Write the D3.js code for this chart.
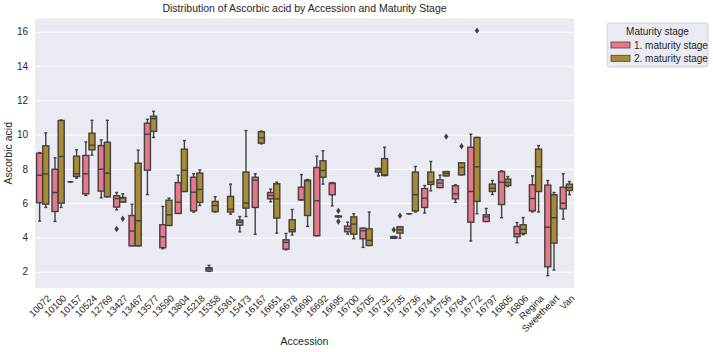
<!DOCTYPE html>
<html><head><meta charset="utf-8">
<script src="https://cdn.jsdelivr.net/npm/d3@7"></script>
<style>body{margin:0;background:#fff}svg{display:block;font-family:"Liberation Sans",Arial,sans-serif}</style>
</head><body><svg id="c" width="713" height="352"></svg>
<script>
const categories = ["10072","10100","10157","10524","12769","13427","13467","13577","13590","13804","15218","15358","15361","15473","16167","16651","16678","16690","16692","16695","16700","16705","16732","16735","16736","16744","16756","16764","16772","16797","16805","16806","Regina","Sweetheart","Van"];
const seriesNames = ["1. maturity stage","2. maturity stage"];
// [lowWhisker, q1, median, q3, highWhisker]
const stage1 = [
[4.95,6.02,7.63,8.91,8.95],[4.93,5.51,6.62,7.98,8.64],[7.24,7.24,7.24,7.24,7.24],[6.45,6.54,7.71,8.78,9.57],
[6.31,6.70,7.98,9.36,9.69],[5.61,5.77,6.27,6.43,6.62],[3.51,3.51,4.37,5.28,5.94],[6.50,7.92,10.02,10.66,10.89],
[3.34,3.40,4.04,4.74,5.81],[5.40,5.40,6.06,7.20,7.63],[5.48,5.55,6.64,7.51,7.71],[2.02,2.04,2.16,2.23,2.37],
null,[4.33,4.72,4.89,5.01,5.22],[4.19,5.75,7.34,7.51,7.71],[6.08,6.25,6.45,6.62,6.82],
[3.28,3.32,3.71,3.86,4.23],[6.19,6.19,6.20,6.93,7.67],[4.10,4.10,6.14,8.08,8.74],[5.84,6.49,7.15,7.17,7.20],
[4.19,4.33,4.50,4.66,4.89],[3.42,3.92,4.39,4.54,4.54],[7.59,7.81,7.94,8.02,8.02],[3.95,3.95,4.00,4.05,4.05],
[5.38,5.38,5.38,5.38,5.38],[5.42,5.75,6.29,6.85,7.03],[6.91,6.91,7.17,7.36,7.63],[6.04,6.25,6.54,7.01,7.07],
[3.79,4.89,6.68,9.26,10.02],[4.93,4.93,5.20,5.32,5.69],[5.15,5.92,7.22,7.84,7.88],[3.69,4.04,4.21,4.64,4.87],
[5.49,5.55,6.27,7.07,7.59],[1.77,2.29,4.60,7.05,7.32],[5.07,5.67,6.00,6.93,7.71]
];
const stage2 = [
[5.75,5.94,7.71,9.34,10.10],[5.75,6.00,8.72,10.82,10.85],[7.46,7.55,7.71,8.74,9.11],[8.80,9.11,9.38,10.08,10.83],
[6.37,6.37,7.75,9.55,10.83],[6.06,6.06,6.30,6.33,6.54],[3.51,3.51,4.97,8.33,9.09],[9.83,10.19,10.93,11.07,11.36],
[4.70,4.70,5.32,6.17,6.29],[6.68,6.68,7.92,9.15,9.65],[5.86,6.04,6.80,7.75,7.94],[5.48,5.51,5.86,6.10,6.37],
[5.36,5.48,5.65,6.39,7.11],[5.22,5.71,6.00,7.81,10.23],[9.46,9.50,9.81,10.16,10.20],[4.25,5.13,6.25,7.13,7.22],
[4.14,4.33,4.45,5.03,5.63],[4.64,5.28,7.30,7.34,7.38],[7.11,7.51,7.90,8.47,9.05],[5.20,5.20,5.22,5.25,5.25],
[3.92,4.19,4.78,5.20,5.38],[3.53,3.53,3.83,4.50,5.48],[7.61,7.61,7.65,8.60,9.26],[3.96,4.25,4.45,4.62,4.62],
[5.48,5.55,6.50,7.81,8.14],[6.72,7.09,7.24,7.81,8.43],[7.59,7.59,7.73,7.84,7.84],[7.65,7.65,8.08,8.35,8.35],
[5.38,6.10,8.12,9.83,9.83],[6.50,6.68,6.87,7.11,7.32],[6.97,7.03,7.20,7.40,7.55],[4.16,4.23,4.47,4.74,5.16],
[5.48,6.68,8.12,9.15,9.36],[2.10,3.67,5.15,6.49,6.62],[6.49,6.74,6.91,7.11,7.26]
];
const outliers1 = [["13427",4.49],["16735",4.45]];
const outliers2 = [["13427",5.09],["16695",5.55],["16695",4.93],["16735",5.26],["16756",9.88],["16764",9.32],["16772",16.06]];
const yTicks = [2,4,6,8,10,12,14,16];
const colors = ["#e8778a","#a88b33"];
const lineColor = "#414141";

const svg = d3.select("#c");
const L=35,R=574,T=18.5,B=288;
const x = d3.scaleBand().domain(categories).range([L,R]).padding(0);
const xs = d3.scaleBand().domain(seriesNames).range([x.bandwidth()*0.1, x.bandwidth()*0.9]).padding(0);
const y = d3.scaleLinear().domain([1.05,16.77]).range([B,T]);

svg.append("rect").attr("x",L).attr("y",T).attr("width",R-L).attr("height",B-T).attr("fill","#eaeaf2");
const yAxis = d3.axisLeft(y).tickValues(yTicks).tickSize(-(R-L)).tickPadding(7);
const gy = svg.append("g").attr("transform",`translate(${L},0)`).call(yAxis);
gy.select(".domain").remove();
gy.selectAll(".tick line").attr("stroke","#fff").attr("stroke-width",1);
gy.selectAll(".tick text").attr("font-size",10).attr("fill","#262626").attr("font-family","Liberation Sans, Arial, sans-serif");

const xAxis = d3.axisBottom(x).tickSize(0).tickPadding(5);
const gx = svg.append("g").attr("transform",`translate(0,${B})`).call(xAxis);
gx.select(".domain").remove();
gx.selectAll(".tick text").attr("font-size",9.5).attr("fill","#262626").attr("font-family","Liberation Sans, Arial, sans-serif")
  .attr("text-anchor","end").attr("dy","0.35em").attr("transform","translate(3,5) rotate(-45)");

const allSeries = [stage1, stage2];
const bw = xs.bandwidth()*0.98;
allSeries.forEach((ser, si) => {
  const g = svg.append("g");
  ser.forEach((s, i) => {
    if (!s) return;
    const cx = x(categories[i]) + xs(seriesNames[si]) + xs.bandwidth()/2;
    const [lo,q1,md,q3,hi] = s;
    const bg = g.append("g");
    bg.append("line").attr("x1",cx).attr("x2",cx).attr("y1",y(hi)).attr("y2",y(q3)).attr("stroke",lineColor).attr("stroke-width",1.4);
    bg.append("line").attr("x1",cx).attr("x2",cx).attr("y1",y(q1)).attr("y2",y(lo)).attr("stroke",lineColor).attr("stroke-width",1.4);
    bg.append("line").attr("x1",cx-bw/4).attr("x2",cx+bw/4).attr("y1",y(hi)).attr("y2",y(hi)).attr("stroke",lineColor).attr("stroke-width",1.4);
    bg.append("line").attr("x1",cx-bw/4).attr("x2",cx+bw/4).attr("y1",y(lo)).attr("y2",y(lo)).attr("stroke",lineColor).attr("stroke-width",1.4);
    bg.append("rect").attr("x",cx-bw/2).attr("y",y(q3)).attr("width",bw).attr("height",Math.max(0,y(q1)-y(q3)))
      .attr("fill",colors[si]).attr("stroke",lineColor).attr("stroke-width",1.4);
    bg.append("line").attr("x1",cx-bw/2).attr("x2",cx+bw/2).attr("y1",y(md)).attr("y2",y(md)).attr("stroke",lineColor).attr("stroke-width",1.4);
  });
});
const diamond = (cx,cy)=>`M${cx},${cy-3.2}L${cx+2.2},${cy}L${cx},${cy+3.2}L${cx-2.2},${cy}Z`;
[outliers1,outliers2].forEach((o,si)=>{
  svg.append("g").selectAll("path").data(o).join("path")
    .attr("d",d=>diamond(x(d[0])+xs(seriesNames[si])+xs.bandwidth()/2, y(d[1])))
    .attr("fill",lineColor);
});

svg.append("text").attr("x",(L+R)/2).attr("y",12).attr("text-anchor","middle").attr("font-size",10.5).attr("fill","#262626").text("Distribution of Ascorbic acid by Accession and Maturity Stage");
svg.append("text").attr("x",(L+R)/2).attr("y",345).attr("text-anchor","middle").attr("font-size",10.5).attr("fill","#262626").text("Accession");
svg.append("text").attr("transform",`translate(12,${(T+B)/2}) rotate(-90)`).attr("text-anchor","middle").attr("font-size",10.5).attr("fill","#262626").text("Ascorbic acid");

// legend
const lg = svg.append("g");
lg.append("rect").attr("x",607).attr("y",23).attr("width",101).attr("height",44).attr("rx",2.5)
  .attr("fill","#eaeaf2").attr("stroke","#cccccc").attr("stroke-width",0.8);
lg.append("text").attr("x",657.5).attr("y",35).attr("text-anchor","middle").attr("font-size",10).attr("fill","#262626").text("Maturity stage");
seriesNames.forEach((n,i)=>{
  const yy = 45 + i*13.3;
  lg.append("rect").attr("x",611).attr("y",yy-3).attr("width",19).attr("height",6).attr("fill",colors[i]).attr("stroke",lineColor).attr("stroke-width",0.8);
  lg.append("text").attr("x",634).attr("y",yy).attr("dy","0.35em").attr("font-size",10).attr("fill","#262626").text(n);
});
</script></body></html>
